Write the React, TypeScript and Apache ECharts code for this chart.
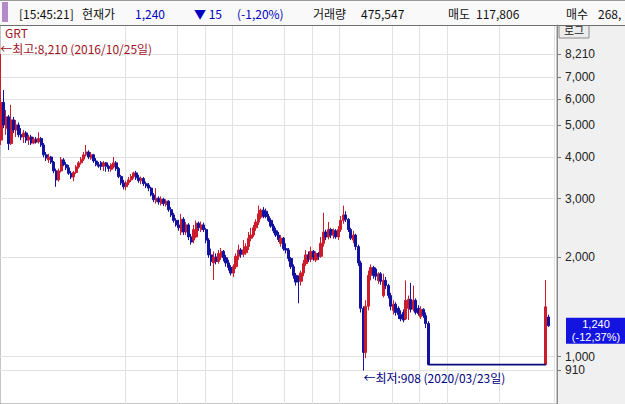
import React, { useEffect, useRef } from "react";
import * as echarts from "echarts";

// ---- data (prices in KRW) ----
// weekly candles [open, high, low, close] before the trading halt
const CANDLES: number[][] = [
  [4510, 8210, 4360, 5860], [5860, 6390, 4900, 5010], [4900, 5560, 4680, 5300], [5300, 5370, 4210, 4400],
  [4400, 5760, 4360, 5190], [5190, 5300, 4740, 4840], [4840, 5190, 4610, 5010], [5010, 5100, 4600, 4680],
  [4680, 4900, 4510, 4610], [4610, 4840, 4420, 4740], [4740, 4800, 4420, 4510], [4510, 4680, 4360, 4610],
  [4610, 4680, 4360, 4420], [4420, 4610, 4380, 4540], [4540, 4610, 4400, 4450], [4450, 4760, 4400, 4560],
  [4560, 4610, 4300, 4360], [4360, 4420, 4000, 4070], [4070, 4150, 3900, 3980], [3930, 4100, 3850, 4010],
  [4010, 4040, 3820, 3870], [3870, 3900, 3580, 3640], [3640, 3700, 3260, 3420], [3420, 3700, 3380, 3640],
  [3640, 4010, 3600, 3930], [3930, 3980, 3760, 3800], [3800, 3870, 3660, 3720], [3720, 3790, 3540, 3580],
  [3580, 3640, 3440, 3490], [3490, 3640, 3390, 3600], [3600, 3790, 3560, 3740], [3740, 3900, 3700, 3850],
  [3850, 4010, 3800, 3950], [3950, 4150, 3900, 4070], [4070, 4360, 4020, 4150], [4150, 4200, 3950, 4010],
  [3980, 4150, 3930, 4070], [4070, 4100, 3850, 3900], [3900, 3980, 3760, 3800], [3800, 3870, 3720, 3760],
  [3850, 3900, 3660, 3760], [3760, 3900, 3640, 3850], [3850, 3870, 3620, 3760], [3760, 3800, 3620, 3700],
  [3680, 3840, 3620, 3800], [3740, 4010, 3700, 3850], [3850, 3900, 3640, 3700], [3700, 3740, 3460, 3500],
  [3500, 3540, 3300, 3350], [3350, 3420, 3200, 3260], [3260, 3400, 3180, 3350], [3350, 3490, 3300, 3420],
  [3420, 3560, 3370, 3500], [3500, 3620, 3450, 3590], [3590, 3640, 3420, 3470], [3470, 3540, 3350, 3400],
  [3400, 3500, 3320, 3450], [3450, 3490, 3280, 3330], [3330, 3380, 3230, 3280], [3300, 3350, 3160, 3230],
  [3230, 3260, 3050, 3080], [3080, 3120, 2930, 2980], [2950, 3230, 2900, 3010], [3010, 3050, 2880, 2930],
  [2900, 3050, 2860, 2990], [2990, 3020, 2850, 2900], [2880, 2990, 2840, 2950], [2950, 2970, 2740, 2780],
  [2780, 2830, 2640, 2680], [2680, 2720, 2540, 2580], [2580, 2620, 2470, 2500], [2500, 2590, 2400, 2450],
  [2380, 2700, 2330, 2600], [2600, 2640, 2330, 2380], [2380, 2550, 2330, 2500], [2500, 2530, 2250, 2300],
  [2300, 2350, 2180, 2220], [2250, 2500, 2200, 2420], [2300, 2580, 2280, 2530], [2530, 2560, 2400, 2450],
  [2420, 2560, 2380, 2500], [2500, 2540, 2380, 2420], [2420, 2450, 2200, 2250], [2250, 2280, 1990, 2030],
  [2030, 2120, 1880, 1940], [1920, 2080, 1705, 2000], [2000, 2050, 1900, 1940], [1940, 2100, 1910, 2050],
  [2000, 2130, 1960, 2080], [2080, 2100, 1940, 1990], [1990, 2030, 1870, 1920], [1920, 1960, 1820, 1860],
  [1860, 1890, 1760, 1790], [1790, 1900, 1740, 1870], [1870, 2050, 1840, 2010], [2010, 2180, 1960, 2100],
  [2100, 2130, 1990, 2040], [2040, 2250, 2000, 2100], [2060, 2200, 2030, 2150], [2150, 2380, 2100, 2280],
  [2280, 2450, 2230, 2330], [2330, 2500, 2300, 2450], [2450, 2600, 2400, 2550], [2550, 2860, 2500, 2700],
  [2640, 2800, 2600, 2770], [2770, 2830, 2620, 2660], [2750, 2800, 2620, 2650], [2650, 2700, 2550, 2580],
  [2580, 2620, 2450, 2480], [2480, 2520, 2360, 2400], [2400, 2450, 2300, 2330], [2330, 2380, 2220, 2260],
  [2200, 2330, 2150, 2280], [2280, 2300, 2090, 2120], [2120, 2200, 2050, 2100], [2100, 2130, 1940, 1980],
  [1980, 2000, 1840, 1870], [1870, 1900, 1720, 1760], [1760, 1790, 1640, 1680], [1740, 1760, 1450, 1690],
  [1690, 1820, 1640, 1790], [1790, 1960, 1750, 1910], [1910, 2100, 1880, 2030], [2030, 2080, 1930, 1970],
  [1970, 2150, 1930, 2080], [2080, 2100, 1950, 2000], [1960, 2080, 1930, 2050], [2050, 2070, 1960, 2010],
  [2010, 2300, 1990, 2200], [2200, 2720, 2150, 2380], [2380, 2420, 2250, 2300], [2300, 2550, 2260, 2420],
  [2420, 2450, 2280, 2330], [2330, 2440, 2270, 2400], [2400, 2430, 2270, 2300], [2300, 2480, 2250, 2420],
  [2420, 2660, 2380, 2580], [2580, 2860, 2520, 2680], [2680, 2750, 2550, 2600], [2600, 2620, 2380, 2420],
  [2420, 2450, 2250, 2280], [2250, 2400, 2200, 2330], [2330, 2350, 2100, 2150], [2150, 2180, 1880, 1920],
  [1920, 1950, 1360, 1400], [1400, 1420, 908, 1030], [1030, 1480, 990, 1420], [1420, 1820, 1380, 1760],
  [1760, 1900, 1700, 1860], [1860, 1880, 1720, 1760], [1840, 1860, 1700, 1750], [1700, 1800, 1660, 1780],
  [1780, 1800, 1650, 1690], [1530, 1780, 1510, 1700], [1700, 1740, 1600, 1640], [1640, 1660, 1500, 1530],
  [1530, 1560, 1380, 1420], [1380, 1480, 1340, 1440], [1440, 1460, 1330, 1360], [1400, 1420, 1300, 1340],
  [1340, 1380, 1280, 1300], [1360, 1390, 1270, 1290], [1300, 1700, 1290, 1480], [1400, 1530, 1290, 1490],
  [1490, 1670, 1360, 1390], [1390, 1640, 1370, 1480], [1480, 1500, 1340, 1360], [1400, 1430, 1330, 1350],
  [1320, 1420, 1300, 1390], [1390, 1400, 1310, 1330], [1330, 1360, 1220, 1260], [1260, 1280, 946, 946],
];
const HALT_PRICE = 946;
const HALT_WEEKS = 46;
// candles after trading resumed [open, high, low, close]
const RESUMED: number[][] = [
  [946, 1705, 946, 1415],
  [1318, 1340, 1230, 1240],
];
const EMPTY_TAIL = 3;
const TICK_PRICES = [8210, 7000, 6000, 5000, 4000, 3000, 2000, 1000, 910];
const MAX_INFO = { price: 8210, date: "2016/10/25", index: 0 };
const MIN_INFO = { price: 908, date: "2020/03/23", index: 145 };
const LAST_PRICE = 1240;
const LAST_CHANGE = "(-12,37%)";
const V_GRID_IDX = [50, 71, 82, 93, 114, 125, 136, 157, 168, 179, 200, 222];
const HEADER = [
  { t: "[15:45:21]", x: 19, c: "#111" },
  { t: "현재가", x: 82, c: "#111" },
  { t: "1,240", x: 135, c: "#0000c0" },
  { t: "▼ 15", x: 194, c: "#0000c0" },
  { t: "(-1,20%)", x: 237, c: "#0000c0" },
  { t: "거래량", x: 313, c: "#111" },
  { t: "475,547", x: 361, c: "#111" },
  { t: "매도", x: 448, c: "#111" },
  { t: "117,806", x: 476, c: "#111" },
  { t: "매수", x: 566, c: "#111" },
  { t: "268,", x: 598, c: "#111" },
];

const FONT = '"Noto Sans CJK KR", "Noto Sans", sans-serif';
const NUM_FONT = '"Liberation Sans", Arial, sans-serif';
const UP = "#cc1c2c";
const DOWN = "#12129e";
const L = (v: number) => Math.log10(v);
const fmt = (v: number) => Math.round(v).toLocaleString("en-US");

export default function App() {
  const ref = useRef<HTMLDivElement>(null);
  useEffect(() => {
    document.body.style.margin = "0";
    const chart = echarts.init(ref.current!, undefined, { renderer: "svg" });
    const total = CANDLES.length + HALT_WEEKS + RESUMED.length + EMPTY_TAIL;
    const cats = Array.from({ length: total }, (_, i) => String(i));
    const candleData: any[] = [];
    CANDLES.forEach((c) => candleData.push([L(c[0]), L(c[3]), L(c[2]), L(c[1])]));
    for (let i = 0; i < HALT_WEEKS; i++) candleData.push("-");
    RESUMED.forEach((c) => candleData.push([L(c[0]), L(c[3]), L(c[2]), L(c[1])]));
    for (let i = 0; i < EMPTY_TAIL; i++) candleData.push("-");
    const haltStart = CANDLES.length - 1;
    const haltEnd = CANDLES.length + HALT_WEEKS;
    const haltData = cats.map((_, i) => (i >= haltStart && i <= haltEnd ? L(HALT_PRICE) : "-"));
    const tickVals = TICK_PRICES.map(L);

    chart.setOption({
      animation: false,
      backgroundColor: "#f0f0f0",
      grid: {
        left: 0, right: 68, top: 25, bottom: 0,
        show: true, backgroundColor: "#ffffff", borderColor: "#8c8c8c", borderWidth: 1,
      },
      xAxis: {
        type: "category", data: cats, boundaryGap: true,
        axisLine: { show: false }, axisTick: { show: false }, axisLabel: { show: false },
        splitLine: { show: true, interval: (i: number) => V_GRID_IDX.includes(i), lineStyle: { color: "#e2e2e2", width: 1 } },
      },
      yAxis: {
        type: "value", position: "right", min: 2.8571, max: 4.0018, scale: true,
        axisLine: { show: true, lineStyle: { color: "#8c8c8c" } },
        axisTick: { show: true, customValues: tickVals, length: 4, lineStyle: { color: "#777" } },
        axisLabel: {
          customValues: tickVals, formatter: (v: number) => fmt(Math.pow(10, v)),
          color: "#222", fontSize: 12, lineHeight: 12, fontFamily: NUM_FONT, margin: 8,
        },
        splitLine: { show: true, lineStyle: { color: "#e2e2e2", width: 1 } },
      },
      series: [
        {
          type: "candlestick", data: candleData, barWidth: 2.6,
          itemStyle: { color: UP, color0: DOWN, borderColor: UP, borderColor0: DOWN, borderWidth: 1 },
        },
        {
          type: "line", data: haltData, symbol: "none", connectNulls: false,
          lineStyle: { color: "#0a0a80", width: 1.6 },
        },
      ],
    });

    const pMax = chart.convertToPixel({ gridIndex: 0 }, [String(MAX_INFO.index), L(MAX_INFO.price)]) as number[];
    const pMin = chart.convertToPixel({ gridIndex: 0 }, [String(MIN_INFO.index), L(MIN_INFO.price)]) as number[];
    const yLast = chart.convertToPixel({ yAxisIndex: 0 }, L(LAST_PRICE)) as number;

    const headerTexts = HEADER.map((h) => ({
      type: "text", x: h.x, y: 13,
      style: { text: h.t, fill: h.c, font: `12px ${FONT}`, verticalAlign: "middle" },
    }));

    chart.setOption({
      graphic: [
        // log button (partly hidden under the header)
        { type: "rect", shape: { x: 559, y: 14, width: 30, height: 24 }, style: { fill: "#ececec", stroke: "#8a8a8a", lineWidth: 1 } },
        { type: "text", x: 574, y: 30, style: { text: "로그", fill: "#222", font: `11px ${FONT}`, align: "center", verticalAlign: "middle", lineHeight: 11 } },
        // header bar
        { type: "rect", shape: { x: 0, y: 0, width: 625, height: 25 }, style: { fill: "#f9f9f9" } },
        { type: "line", shape: { x1: 0, y1: 0.5, x2: 625, y2: 0.5 }, style: { stroke: "#9a9a9a", lineWidth: 1 } },
        { type: "line", shape: { x1: 0, y1: 25.5, x2: 625, y2: 25.5 }, style: { stroke: "#6e6e6e", lineWidth: 1 } },
        { type: "rect", shape: { x: 2, y: 2, width: 6, height: 20 }, style: { fill: "#b58ac8" } },
        ...headerTexts,
        // annotations
        { type: "text", x: 5, y: 32, style: { text: "GRT", fill: "#a0141e", font: `12px ${FONT}`, verticalAlign: "middle", lineHeight: 12 } },
        {
          type: "text", x: pMax[0] - 1, y: pMax[1] + 1,
          style: { text: `←최고:${fmt(MAX_INFO.price)} (${MAX_INFO.date}일)`, fill: "#a0141e", font: `12px ${FONT}`, verticalAlign: "bottom", lineHeight: 12 },
        },
        {
          type: "text", x: pMin[0], y: pMin[1] + 1,
          style: { text: `←최저:${fmt(MIN_INFO.price)} (${MIN_INFO.date}일)`, fill: "#00007f", font: `12px ${FONT}`, verticalAlign: "top", lineHeight: 12 },
        },
        // last price box
        { type: "rect", shape: { x: 566, y: yLast - 8, width: 59, height: 26 }, style: { fill: "#1414e0" } },
        {
          type: "text", x: 596, y: yLast - 1.5,
          style: { text: fmt(LAST_PRICE), fill: "#ffffff", font: `11px ${NUM_FONT}`, align: "center", verticalAlign: "middle", lineHeight: 11 },
        },
        {
          type: "text", x: 596, y: yLast + 11.5,
          style: { text: LAST_CHANGE, fill: "#ffffff", font: `11px ${NUM_FONT}`, align: "center", verticalAlign: "middle", lineHeight: 11 },
        },
      ],
    });

    return () => chart.dispose();
  }, []);
  return <div ref={ref} style={{ position: "fixed", left: 0, top: 0, width: 625, height: 404 }} />;
}
